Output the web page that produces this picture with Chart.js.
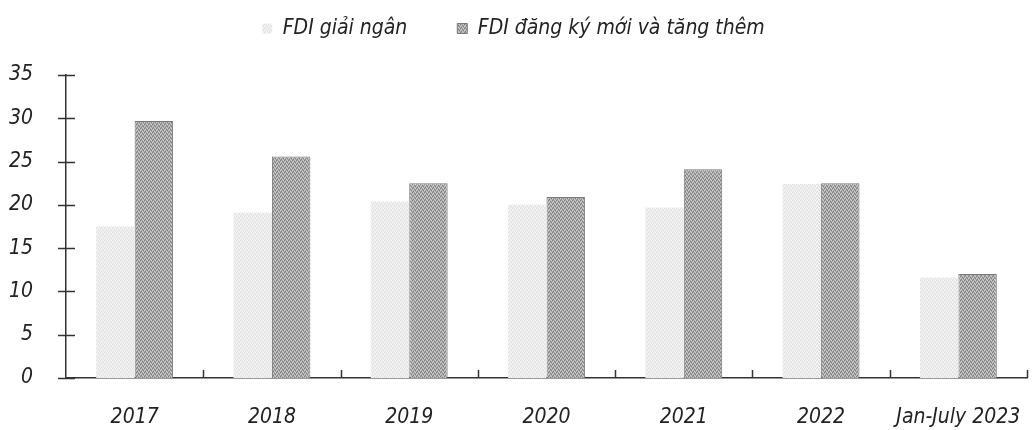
<!DOCTYPE html>
<html>
<head>
<meta charset="utf-8">
<script src="https://cdn.jsdelivr.net/npm/chart.js@4.4.0/dist/chart.umd.min.js"></script>
<style>
  html, body { margin: 0; padding: 0; background: #fff; }
  #wrap { width: 1034px; height: 430px; }
</style>
</head>
<body>
<div id="wrap"><canvas id="chart" width="1034" height="430"></canvas></div>
<script>
// data (billion USD)
const years = ['2017', '2018', '2019', '2020', '2021', '2022', 'Jan-July 2023'];
const disbursed = [17.5, 19.1, 20.4, 20.0, 19.7, 22.4, 11.6];
const registered = [29.7, 25.6, 22.5, 20.9, 24.1, 22.5, 12.0];
const yTicks = [0, 5, 10, 15, 20, 25, 30, 35];

const FONT = '"Liberation Sans Narrow", "DejaVu Sans Condensed", "Liberation Sans", sans-serif';

// small stipple so the bars look like the printed dot screen
function stipple(base, dark, light) {
  const c = document.createElement('canvas');
  c.width = 4; c.height = 4;
  const g = c.getContext('2d');
  g.fillStyle = base;
  g.fillRect(0, 0, 4, 4);
  g.fillStyle = dark;
  g.fillRect(0, 0, 1, 1); g.fillRect(2, 1, 1, 1); g.fillRect(1, 3, 1, 1); g.fillRect(3, 2, 1, 1);
  g.fillStyle = light;
  g.fillRect(1, 1, 1, 1); g.fillRect(3, 0, 1, 1); g.fillRect(0, 2, 1, 1); g.fillRect(2, 3, 1, 1);
  return g.createPattern(c, 'repeat');
}

// leave a gap under the legend like the original
const legendGap = {
  id: 'legendGap',
  beforeInit(chart) {
    const fit = chart.legend.fit;
    chart.legend.fit = function () {
      fit.call(this);
      this.height = 107;
    };
  }
};

// tick marks crossing the y axis and pointing up from the x axis
const axisMarks = {
  id: 'axisMarks',
  afterDraw(chart) {
    const { ctx, chartArea, scales } = chart;
    ctx.save();
    ctx.strokeStyle = '#333';
    ctx.lineWidth = 1.5;
    ctx.beginPath();
    yTicks.forEach(v => {
      const y = Math.round(scales.y.getPixelForValue(v)) + 0.5;
      ctx.moveTo(chartArea.left - 8, y);
      ctx.lineTo(chartArea.left + 9, y);
    });
    const step = (chartArea.right - chartArea.left) / years.length;
    for (let i = 1; i <= years.length; i++) {
      const x = Math.round(chartArea.left + step * i) + 0.5;
      ctx.moveTo(x, chartArea.bottom);
      ctx.lineTo(x, chartArea.bottom - 8);
    }
    ctx.stroke();
    ctx.restore();
  }
};

const ctx = document.getElementById('chart').getContext('2d');
new Chart(ctx, {
  type: 'bar',
  data: {
    labels: years,
    datasets: [
      {
        label: 'FDI giải ngân',
        data: disbursed,
        backgroundColor: stipple('#ececec', '#e0e0e0', '#f6f6f6'),
        borderWidth: 0
      },
      {
        label: 'FDI đăng ký mới và tăng thêm',
        data: registered,
        backgroundColor: stipple('#ababab', '#7e7e7e', '#cbcbcb'),
        borderColor: '#7a7a7a',
        borderWidth: 1
      }
    ]
  },
  options: {
    responsive: false,
    animation: false,
    layout: { padding: { left: 0, right: 7, top: -32, bottom: 0 } },
    datasets: {
      bar: { categoryPercentage: 0.56, barPercentage: 1 }
    },
    scales: {
      x: {
        grid: { display: false },
        border: { display: true, color: '#333', width: 1.5 },
        afterFit: axis => { axis.height = 52; axis.paddingRight = 0; axis.paddingLeft = 0; },
        ticks: {
          color: '#222',
          padding: 19,
          maxRotation: 0,
          autoSkip: false,
          font: { family: FONT, size: 21, style: 'italic' }
        }
      },
      y: {
        min: 0,
        max: 35,
        grid: { display: false },
        border: { display: true, color: '#333', width: 1.5 },
        afterFit: axis => { axis.width = 66; },
        afterBuildTicks: axis => { axis.ticks = yTicks.map(v => ({ value: v })); },
        ticks: {
          color: '#222',
          padding: 25,
          font: { family: FONT, size: 21, style: 'italic' }
        }
      }
    },
    plugins: {
      legend: {
        position: 'top',
        labels: {
          color: '#222',
          boxWidth: 10,
          boxHeight: 10,
          padding: 50,
          font: { family: FONT, size: 21, style: 'italic' }
        }
      },
      tooltip: { enabled: false }
    }
  },
  plugins: [legendGap, axisMarks]
});
</script>
</body>
</html>
